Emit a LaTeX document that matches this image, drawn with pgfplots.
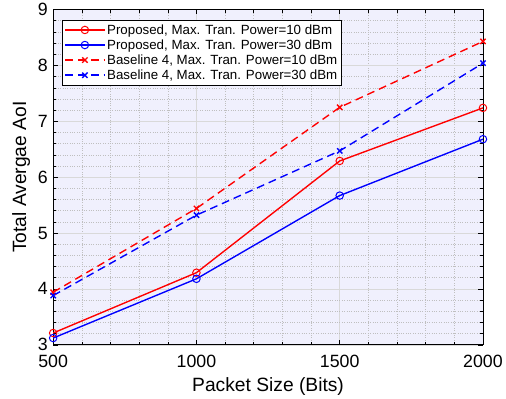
\documentclass[border=0pt]{standalone}
\usepackage{pgfplots}
\pgfplotsset{compat=1.18}
\usepackage{fontspec}
\setmainfont{Liberation Sans}
\definecolor{bgc}{RGB}{240,240,253}
\begin{document}
\begin{tikzpicture}
\begin{axis}[
  scale only axis,
  width=436pt, height=340pt,
  xmin=500, xmax=2000, ymin=3, ymax=9,
  xtick={500,1000,1500,2000},
  ytick={3,4,5,6,7,8,9},
  minor x tick num=4, minor y tick num=4,
  grid=both,
  major grid style={draw=black!15, line width=0.5pt},
  minor grid style={draw=black!25, dotted, line width=0.5pt},
  axis background/.style={fill=bgc},
  axis line style={black, line width=0.7pt},
  tick align=inside,
  major tick length=5pt, minor tick length=3pt,
  tick style={black, line width=0.5pt},
  every tick label/.append style={font=\fontsize{18}{20}\selectfont},
  xticklabel style={yshift=-7pt},
  yticklabel style={xshift=-2pt},
  /pgf/number format/assume math mode=true,
  /pgf/number format/1000 sep={},
  xlabel={Packet Size (Bits)},
  ylabel={Total Avergae AoI},
  xlabel style={font=\fontsize{19.5}{22}\selectfont, yshift=-3pt},
  ylabel style={font=\fontsize{19.5}{22}\selectfont, yshift=1pt},
  legend style={font=\fontsize{13.5}{15}\selectfont, draw=black, line width=0.7pt, fill=white, at={(0.02,0.97)}, anchor=north west, inner sep=2.5pt, row sep=0pt},
  legend cell align=left,
  legend image code/.code={\draw[mark repeat=2,mark phase=2] plot coordinates {(0cm,0cm) (0.7cm,0cm) (1.4cm,0cm)};},
]
\addplot[red, line width=1.4pt, mark=o, mark size=3.8pt, mark options={solid, line width=1pt}] coordinates {(500,3.21) (1000,4.29) (1500,6.29) (2000,7.24)};
\addlegendentry{Proposed, Max. Tran. Power=10 dBm}
\addplot[blue, line width=1.4pt, mark=o, mark size=3.8pt, mark options={solid, line width=1pt}] coordinates {(500,3.12) (1000,4.18) (1500,5.67) (2000,6.68)};
\addlegendentry{Proposed, Max. Tran. Power=30 dBm}
\addplot[red, line width=1.4pt, dash pattern=on 8pt off 5pt, mark=x, mark size=3.8pt, mark options={solid, line width=1.4pt}] coordinates {(500,3.94) (1000,5.44) (1500,7.25) (2000,8.43)};
\addlegendentry{Baseline 4, Max. Tran. Power=10 dBm}
\addplot[blue, line width=1.4pt, dash pattern=on 8pt off 5pt, mark=x, mark size=3.8pt, mark options={solid, line width=1.4pt}] coordinates {(500,3.88) (1000,5.32) (1500,6.47) (2000,8.04)};
\addlegendentry{Baseline 4, Max. Tran. Power=30 dBm}
\end{axis}
\path ([xshift=-9pt]current bounding box.west);
\end{tikzpicture}
\end{document}
